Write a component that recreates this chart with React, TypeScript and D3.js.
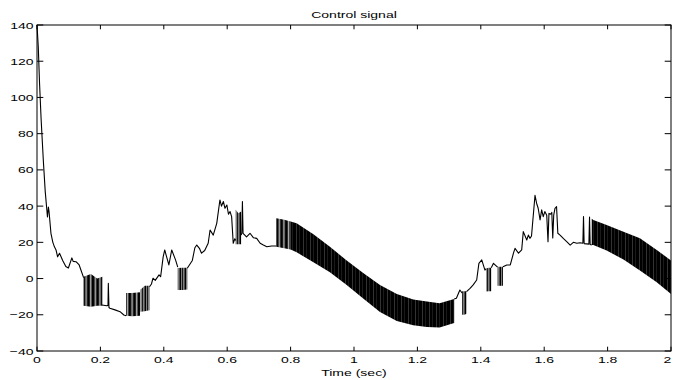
import React from 'react';
import * as d3 from 'd3';

const W = 673;
const H = 380;

const xTicks = [0, 0.2, 0.4, 0.6, 0.8, 1, 1.2, 1.4, 1.6, 1.8, 2];
const xTickLabels = ['0', '0.2', '0.4', '0.6', '0.8', '1', '1.2', '1.4', '1.6', '1.8', '2'];
const yTicks = [-40, -20, 0, 20, 40, 60, 80, 100, 120, 140];
const yTickLabels = ['\u221240', '\u221220', '0', '20', '40', '60', '80', '100', '120', '140'];

const titleText = 'Control signal';
const xLabelText = 'Time (sec)';

// main (non-chattering) trace, NaN = break where a chattering band takes over
const traceT = [
  0, 0.004, 0.008, 0.013, 0.02, 0.026, 0.031, 0.033, 0.036, 0.038, 0.044, 0.05, 0.055, 0.06, 0.065, 0.071, 0.081, 0.091, 0.099, 0.11, 0.114, 0.123, 0.133, 0.147,
  NaN,
  0.205, 0.22, 0.224, 0.225, 0.227, 0.23, 0.246, 0.262, 0.274, 0.281,
  NaN,
  0.355, 0.361, 0.366, 0.373, 0.385, 0.39, 0.398, 0.403, 0.408, 0.416, 0.425, 0.437, 0.444,
  NaN,
  0.474, 0.49, 0.498, 0.504, 0.513, 0.519, 0.529, 0.54, 0.546, 0.556, 0.567, 0.577, 0.582, 0.588, 0.593, 0.599, 0.604, 0.609, 0.614, 0.619, 0.624, 0.627,
  NaN,
  0.644, 0.646, 0.648, 0.65, 0.661, 0.672, 0.683, 0.693, 0.704, 0.714, 0.725, 0.74, 0.755,
  NaN,
  1.316, 1.323, 1.334, 1.341,
  NaN,
  1.355, 1.366, 1.376, 1.387, 1.394, 1.403, 1.413, 1.417,
  NaN,
  1.433, 1.44, 1.451, 1.453,
  NaN,
  1.47, 1.482, 1.493, 1.503, 1.508, 1.519, 1.529, 1.534, 1.545, 1.55, 1.555, 1.56, 1.571, 1.576, 1.581, 1.587, 1.592, 1.597, 1.602, 1.608, 1.612, 1.615, 1.62, 1.624, 1.627, 1.63, 1.634, 1.639, 1.643, 1.65, 1.661, 1.671, 1.682, 1.692, 1.703, 1.713, 1.722, 1.724, 1.726, 1.741, 1.743, 1.745, 1.75,
];
const traceU = [
  140, 128, 108, 88, 65, 48, 38, 34, 39.5, 37, 25, 20, 17.5, 15.8, 12, 14, 10, 6.6, 5.8, 11.4, 9.5, 9.3, 7.5, 0.5,
  NaN,
  -14.6, -15, -14.8, -2.6, -16, -16.4, -17.3, -18.3, -20.1, -20.5,
  NaN,
  -4.5, -3, 0.2, -1, 2, 1, 12, 15.8, 12.5, 7.5, 15.8, 10.3, 6.3,
  NaN,
  5.7, 10, 17, 18.5, 16.5, 14, 15.5, 19.5, 26.8, 24, 30.5, 43.4, 40, 42.5, 38.8, 40.6, 35.5, 37, 34.2, 19.5, 22, 21,
  NaN,
  24, 25, 42.5, 25, 23, 25, 22.5, 22.2, 19.5, 18.5, 17.6, 18, 18,
  NaN,
  -11.3, -10.9, -6.3, -8,
  NaN,
  -7.2, -5.4, -3.5, -0.8, 8.4, 10.3, 4.7, 5.5,
  NaN,
  6, 8.4, 6.6, 6.5,
  NaN,
  6.5, 7.5, 7.5, 14, 16.7, 14, 15.8, 25.9, 21.3, 24, 22.2, 23.5, 46, 41.6, 38.8, 32.4, 37.9, 34.2, 37, 35, 20.4, 36, 35.5, 36.5, 22.4, 35, 38.8, 39.7, 25, 24, 22, 20.4, 18.5, 20, 19.5, 19.8, 19.5, 34.2, 19.3, 19, 34, 18.8, 18.5,
];

// chattering bands: time, upper envelope, lower envelope (NaN separates bands)
const chatterT = [
  0.147, 0.17, 0.19, 0.206, NaN,
  0.281, 0.3, 0.325, NaN,
  0.327, 0.34, 0.355, NaN,
  0.444, 0.46, 0.474, NaN,
  0.627, 0.635, 0.644, NaN,
  0.755, 0.78, 0.8, NaN,
  0.8, 0.819, 0.872, 0.924, 0.977, 1.029, 1.082, 1.135, 1.187, 1.23, 1.27, 1.316, NaN,
  1.341, 1.348, 1.355, NaN,
  1.417, 1.425, 1.433, NaN,
  1.453, 1.462, 1.47, NaN,
  1.75, 1.755, 1.797, 1.85, 1.902, 1.955, 2.0,
];
const chatterTop = [
  1, 2.5, 0, 1, NaN,
  -8, -8, -7.5, NaN,
  -6, -4, -4, NaN,
  5.8, 6, 6, NaN,
  38, 36, 37, NaN,
  33.3, 32.5, 31.5, NaN,
  31.5, 30.5, 24.5, 17.5, 10, 3, -3.5, -8.5, -11.5, -12.7, -13.6, -11.3, NaN,
  -7, -7, -7, NaN,
  5.5, 6, 6, NaN,
  6.5, 6.5, 6.5, NaN,
  33, 32.4, 29.6, 25.9, 22.2, 15.8, 10,
];
const chatterBottom = [
  -15, -15.5, -15, -15, NaN,
  -20.6, -20.8, -20.5, NaN,
  -18.3, -18, -17.5, NaN,
  -6.3, -6.3, -6, NaN,
  19, 19, 19, NaN,
  17.6, 16.8, 16, NaN,
  16, 14.5, 9, 3.5, -3.5, -11, -18.5, -23.5, -25.8, -26.7, -27, -24.6, NaN,
  -20, -20, -19.5, NaN,
  -7.2, -7, -7, NaN,
  -4, -4, -4, NaN,
  18.5, 18.5, 15.5, 10.5, 4.5, -2, -8.5,
];

const FONT = '"Liberation Sans", Arial, Helvetica, sans-serif';
const FS = 9.8;
const SX = 1.43;

export default function App() {
  const left = 37, right = 671, top = 25, bottom = 351;
  const x = d3.scaleLinear().domain([0, 2]).range([left, right]);
  const y = d3.scaleLinear().domain([-40, 140]).range([bottom, top]);

  const pts: [number, number][] = traceT.map((t, i) => [t, traceU[i]]);
  const line = d3
    .line<[number, number]>()
    .defined((d) => !isNaN(d[0]) && !isNaN(d[1]))
    .x((d) => x(d[0]))
    .y((d) => y(d[1]));

  const bands: [number, number, number][][] = [];
  let cur: [number, number, number][] = [];
  chatterT.forEach((t, i) => {
    if (isNaN(t)) {
      if (cur.length) bands.push(cur);
      cur = [];
    } else cur.push([t, chatterTop[i], chatterBottom[i]]);
  });
  if (cur.length) bands.push(cur);

  const area = d3
    .area<[number, number, number]>()
    .x((d) => x(d[0]))
    .y0((d) => y(d[2]))
    .y1((d) => y(d[1]));

  const tickX = 4.3;
  const tickY = 6.3;

  return (
    <svg width={W} height={H} style={{ position: 'absolute', left: 0, top: 0, display: 'block', background: '#fff' }}>
      <defs>
        <pattern id="dense" patternUnits="userSpaceOnUse" width={7} height={20}>
          <rect x={0} y={0} width={7} height={20} fill="#000" />
          <rect x={2} y={0} width={0.5} height={20} fill="#fff" opacity={0.4} />
          <rect x={5.2} y={0} width={0.4} height={20} fill="#fff" opacity={0.25} />
        </pattern>
        <pattern id="medium" patternUnits="userSpaceOnUse" width={4.6} height={20}>
          <rect x={0} y={0} width={2.6} height={20} fill="#000" />
          <rect x={3.4} y={0} width={0.9} height={20} fill="#000" />
        </pattern>
        <pattern id="sparse" patternUnits="userSpaceOnUse" width={5} height={20}>
          <rect x={0} y={0} width={1.5} height={20} fill="#000" />
          <rect x={2.1} y={0} width={1.4} height={20} fill="#000" />
          <rect x={4} y={0} width={0.7} height={20} fill="#000" />
        </pattern>
      </defs>
      <rect x={left} y={top} width={right - left} height={bottom - top} fill="#fff" />

      {bands.map((b, i) => {
        const dur = b[b.length - 1][0] - b[0][0];
        const fill = dur > 0.1 ? 'url(#dense)' : dur > 0.04 ? 'url(#medium)' : 'url(#sparse)';
        return <path key={i} d={area(b) || ''} fill={fill} />;
      })}
      <path d={line(pts) || ''} fill="none" stroke="#000" strokeWidth={1.1} strokeLinejoin="round" />

      {/* box */}
      <rect x={left} y={top} width={right - left} height={bottom - top} fill="none" stroke="#000" strokeWidth={1} />

      {xTicks.map((t, i) => (
        <g key={'xt' + i}>
          <line x1={x(t)} x2={x(t)} y1={bottom} y2={bottom - tickX} stroke="#000" />
          <line x1={x(t)} x2={x(t)} y1={top} y2={top + tickX} stroke="#000" />
          <text
            transform={`translate(${Math.min(x(t), 667.5)},363) scale(${SX},1)`}
            textAnchor="middle"
            fontFamily={FONT}
            fontSize={FS}
            fill="#000"
          >
            {xTickLabels[i]}
          </text>
        </g>
      ))}
      {yTicks.map((v, i) => (
        <g key={'yt' + i}>
          <line x1={left} x2={left + tickY} y1={y(v)} y2={y(v)} stroke="#000" />
          <line x1={right} x2={right - tickY} y1={y(v)} y2={y(v)} stroke="#000" />
          <text
            transform={`translate(33.5,${y(v) + 3.5}) scale(${SX},1)`}
            textAnchor="end"
            fontFamily={FONT}
            fontSize={FS}
            fill="#000"
          >
            {yTickLabels[i]}
          </text>
        </g>
      ))}

      <text
        transform={`translate(${(left + right) / 2},17.5) scale(${SX},1)`}
        textAnchor="middle"
        fontFamily={FONT}
        fontSize={FS}
        fill="#000"
      >
        {titleText}
      </text>
      <text
        transform={`translate(${(left + right) / 2},376) scale(${SX},1)`}
        textAnchor="middle"
        fontFamily={FONT}
        fontSize={FS}
        fill="#000"
      >
        {xLabelText}
      </text>
    </svg>
  );
}
